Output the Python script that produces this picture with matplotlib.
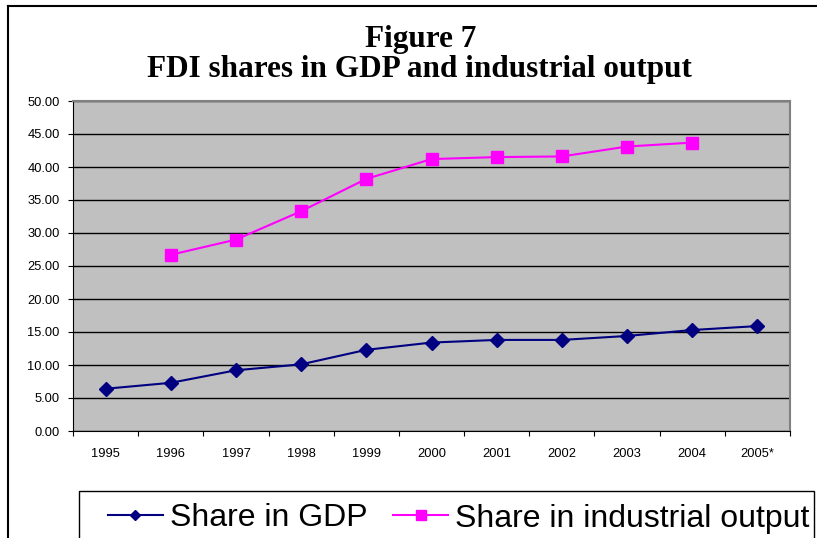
import matplotlib.pyplot as plt
from matplotlib.lines import Line2D
from matplotlib.patches import Rectangle

# values (percent)
years = ['1995', '1996', '1997', '1998', '1999', '2000', '2001', '2002', '2003', '2004', '2005*']
gdp_share = [6.4, 7.3, 9.2, 10.1, 12.3, 13.4, 13.8, 13.8, 14.4, 15.3, 15.9]
ind_years = ['1996', '1997', '1998', '1999', '2000', '2001', '2002', '2003', '2004']
ind_share = [26.7, 29.0, 33.3, 38.2, 41.2, 41.5, 41.6, 43.1, 43.7]
yticks = [0, 5, 10, 15, 20, 25, 30, 35, 40, 45, 50]

plt.rcParams['font.family'] = ['Liberation Sans', 'DejaVu Sans']

fig = plt.figure(figsize=(8.17, 5.38), dpi=100)
W, H = 817, 538

# outer chart border (only left and top are inside the picture)
fig.add_artist(Line2D([8 / W, 8 / W], [0, 1 - 5.5 / H], transform=fig.transFigure,
                      color='black', linewidth=1.5))
fig.add_artist(Line2D([8 / W, 1], [1 - 5.5 / H, 1 - 5.5 / H], transform=fig.transFigure,
                      color='black', linewidth=1.5))

ax = fig.add_axes([73 / W, 1 - 431 / H, (790 - 73) / W, (431 - 101) / H])
ax.set_facecolor('#C0C0C0')

xpos = list(range(len(years)))
ind_x = [years.index(y) for y in ind_years]

ax.plot(xpos, gdp_share, color='#000080', linewidth=1.5, marker='D', markersize=7,
        label='Share in GDP', zorder=3)
ax.plot(ind_x, ind_share, color='#FF00FF', linewidth=1.5, marker='s', markersize=8.5,
        label='Share in industrial output', zorder=3)

ax.set_xlim(-0.5, len(years) - 0.5)
ax.set_ylim(0, 50)
ax.set_yticks(yticks)
ax.set_yticklabels(['%.2f' % v for v in yticks], fontsize=9.3)
ax.yaxis.grid(True, color='black', linewidth=1)
ax.set_axisbelow(True)

# category axis: ticks at boundaries, labels centred
ax.set_xticks([i - 0.5 for i in range(len(years) + 1)])
ax.set_xticklabels([])
ax.set_xticks(xpos, minor=True)
ax.set_xticklabels(years, minor=True, fontsize=9.3)
ax.tick_params(axis='x', which='minor', length=0, pad=12)
ax.tick_params(axis='x', which='major', direction='out', length=3.5, color='black')
ax.tick_params(axis='y', direction='out', length=3.5, color='black', pad=6)

for side in ['top', 'right']:
    ax.spines[side].set_color('#808080')
    ax.spines[side].set_linewidth(1.5)
for side in ['left', 'bottom']:
    ax.spines[side].set_color('black')

fig.text(421 / W, 1 - 47 / H, 'Figure 7', ha='center', va='baseline',
         fontsize=22.5, fontweight='bold', family='Liberation Serif')
fig.text(419 / W, 1 - 77 / H, 'FDI shares in GDP and industrial output', ha='center',
         va='baseline', fontsize=22.5, fontweight='bold', family='Liberation Serif')

# legend box (runs off the bottom of the picture)
fig.add_artist(Rectangle((79 / W, -0.1), (814 - 79) / W, 0.1 + 1 - 491.5 / H,
                         transform=fig.transFigure, fill=False, edgecolor='black',
                         linewidth=1))
leg = fig.legend(loc='center left', bbox_to_anchor=(108 / W, 1 - 518.5 / H), ncol=2,
                 fontsize=23, frameon=False, handlelength=1.72, handletextpad=0.22,
                 columnspacing=0.8, borderpad=0, borderaxespad=0, markerscale=0.8)

fig.savefig('out.png', dpi=100)
